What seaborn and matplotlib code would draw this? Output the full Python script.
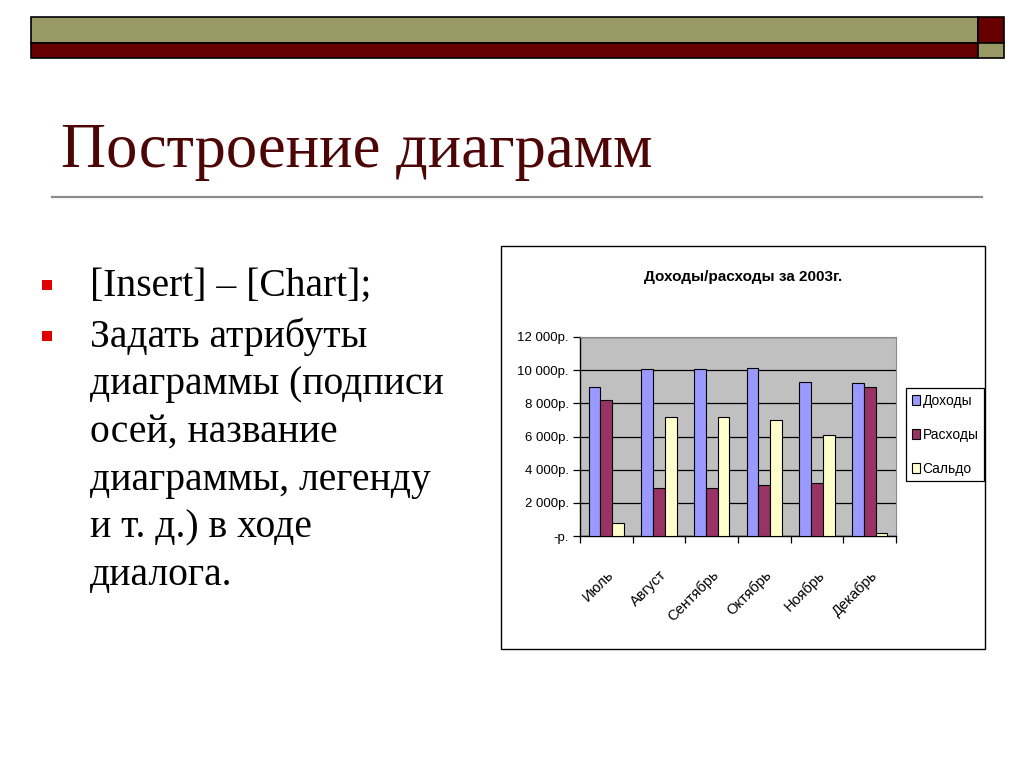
import numpy as np
import pandas as pd
import matplotlib
matplotlib.use("Agg")
import matplotlib.pyplot as plt
import matplotlib.patches as patches
import matplotlib.ticker as mticker
from matplotlib.lines import Line2D
import seaborn as sns

# --- data ---
months = ["Июль", "Август", "Сентябрь", "Октябрь", "Ноябрь", "Декабрь"]
series = ["Доходы", "Расходы", "Сальдо"]
income = [9000, 10100, 10050, 10150, 9300, 9200]
expenses = [8200, 2900, 2900, 3050, 3200, 9000]
balance = [800, 7200, 7150, 7000, 6100, 180]
series_colors = ["#9999FF", "#993366", "#FFFFCC"]
y_ticks = [0, 2000, 4000, 6000, 8000, 10000, 12000]

slide_title = "Построение диаграмм"
chart_title = "Доходы/расходы за 2003г."
bullet_lines = [
    ("[Insert] – [Chart];", True),
    ("Задать атрибуты", True),
    ("диаграммы (подписи", False),
    ("осей, название", False),
    ("диаграммы, легенду", False),
    ("и т. д.) в ходе", False),
    ("диалога.", False),
]
line_baselines = [296, 347, 394, 442, 490, 537, 585]  # pixel rows

W, H = 1024, 768


def fx(px):
    return px / W


def fy(py):
    return 1 - py / H


df = pd.DataFrame({
    "month": months * 3,
    "series": [s for s in series for _ in months],
    "value": income + expenses + balance,
})

fig = plt.figure(figsize=(10.24, 7.68), dpi=100)
fig.patch.set_facecolor("white")

olive, maroon = "#999966", "#660000"

# --- slide header bars ---
def add_rect(x0, y0, x1, y1, fc, ec="black", lw=1.2, z=1):
    fig.patches.append(patches.Rectangle((fx(x0), fy(y1)), fx(x1) - fx(x0), fy(y0) - fy(y1),
                                         transform=fig.transFigure, facecolor=fc,
                                         edgecolor=ec, linewidth=lw, zorder=z))

add_rect(31, 17, 978, 43, olive)
add_rect(31, 43, 978, 58, maroon)
add_rect(978, 17, 1004, 43, maroon)
add_rect(978, 43, 1004, 58, olive)

# --- slide title and rule ---
fig.text(fx(61), fy(167), slide_title, family="Liberation Serif", fontsize=45,
         color="#4d0505", va="baseline", ha="left")
fig.add_artist(Line2D([fx(52), fx(982)], [fy(197), fy(197)], color="#8c8c8c",
                      linewidth=1.6, transform=fig.transFigure))

# --- bullet text ---
for (line, has_bullet), base in zip(bullet_lines, line_baselines):
    fig.text(fx(90), fy(base), line, family="Liberation Serif", fontsize=28.5,
             color="black", va="baseline", ha="left")
    if has_bullet:
        add_rect(42, base - 16, 52, base - 6, "#e00000", ec="none", lw=0)

# --- chart frame ---
add_rect(501, 246, 985, 649, "none", lw=1.0, z=0)
fig.text(fx(743), fy(277), chart_title, family="Liberation Sans", fontsize=11,
         fontweight="bold", ha="center", va="center")

# --- bar chart ---
ax = fig.add_axes([fx(580), fy(536), fx(896) - fx(580), fy(337) - fy(536)])
ax.set_facecolor("#C0C0C0")
sns.barplot(data=df, x="month", y="value", hue="series", hue_order=series,
            palette=series_colors, width=0.667, edgecolor="black", linewidth=0.8,
            saturation=1, ax=ax, zorder=3)

ax.set_ylim(0, 12000)
ax.set_xlim(-0.5, len(months) - 0.5)
ax.set_yticks(y_ticks)
ax.yaxis.set_major_formatter(mticker.FuncFormatter(
    lambda v, pos: "-р." if v == 0 else f"{int(v):,}".replace(",", " ") + "р."))
ax.grid(axis="y", color="black", linewidth=0.9, zorder=1)
ax.grid(axis="x", visible=False)
ax.set_axisbelow(True)
ax.set_xlabel("")
ax.set_ylabel("")

for side in ["top", "right"]:
    ax.spines[side].set_color("#8a8a8a")
    ax.spines[side].set_linewidth(0.8)
for side in ["left", "bottom"]:
    ax.spines[side].set_color("black")
    ax.spines[side].set_linewidth(1.0)

ax.tick_params(axis="y", direction="out", length=5, width=0.9, pad=3,
               labelsize=9.5, labelfontfamily="Liberation Sans")
ax.set_xticks(range(len(months)))
ax.set_xticklabels(months, rotation=45, ha="right", rotation_mode="anchor",
                   family="Liberation Sans", fontsize=10.5)
ax.tick_params(axis="x", which="major", length=0, pad=23)
ax.set_xticks(np.arange(-0.5, len(months), 1.0), minor=True)
ax.tick_params(axis="x", which="minor", direction="out", length=5, width=0.9)

handles, labels = ax.get_legend_handles_labels()
ax.get_legend().remove()
leg = fig.legend(handles, labels, loc="upper left",
                 bbox_to_anchor=(fx(906), fy(388)), bbox_transform=fig.transFigure,
                 prop={"family": "Liberation Sans", "size": 10},
                 handlelength=0.6, handleheight=0.7, handletextpad=0.2,
                 labelspacing=1.45, borderpad=0.4, borderaxespad=0,
                 fancybox=False, framealpha=1)
leg.get_frame().set_edgecolor("black")
leg.get_frame().set_linewidth(0.9)

fig.savefig("out.png", dpi=100, facecolor="white")
